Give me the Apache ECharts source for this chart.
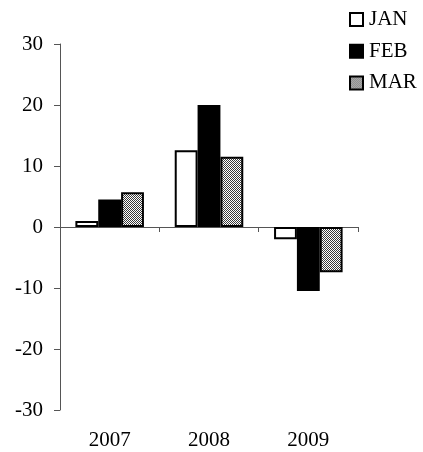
<!DOCTYPE html>
<html>
<head>
<meta charset="utf-8">
<script src="https://cdn.jsdelivr.net/npm/echarts@6/dist/echarts.min.js"></script>
<style>html,body{margin:0;padding:0;background:#fff;}#c{width:423px;height:452px;}</style>
</head>
<body>
<div id="c"></div>
<script>
var categories = ['2007', '2008', '2009'];
var seriesNames = ['JAN', 'FEB', 'MAR'];
var janValues = [1, 12.6, -2];
var febValues = [4.5, 20, -10.5];
var marValues = [5.7, 11.5, -7.4];
var yTicks = {min: -30, max: 30, interval: 10};

var pc = document.createElement('canvas');
pc.width = 2; pc.height = 2;
var ctx = pc.getContext('2d');
ctx.fillStyle = '#ffffff'; ctx.fillRect(0, 0, 2, 2);
ctx.fillStyle = '#3a3a3a'; ctx.fillRect(0, 0, 1, 1); ctx.fillRect(1, 1, 1, 1);
var pattern = {image: pc, repeat: 'repeat'};

var font = '"Liberation Serif", "Times New Roman", serif';
var border = {borderColor: '#000', borderWidth: 2};

function mk(name, data, color) {
  return {
    name: name, type: 'bar', data: data, barWidth: '23%', barGap: '0%',
    itemStyle: Object.assign({color: color}, border),
    emphasis: {disabled: true}, animation: false
  };
}

var chart = echarts.init(document.getElementById('c'), null, {renderer: 'canvas'});
chart.setOption({
  animation: false,
  backgroundColor: '#fff',
  grid: {left: 60, top: 44, width: 298, height: 366},
  legend: {
    orient: 'vertical', left: 349, top: 9, padding: 0, itemWidth: 13, itemHeight: 13, itemGap: 10.7,
    icon: 'rect',
    textStyle: {fontFamily: font, fontSize: 21, color: '#000', lineHeight: 21, padding: [0,0,0,1]},
    data: seriesNames
  },
  xAxis: [{
    type: 'category', data: categories, position: 'bottom',
    axisLine: {onZero: true, lineStyle: {color: '#555', width: 1}},
    axisTick: {show: true, length: 5, lineStyle: {color: '#555'}},
    axisLabel: {show: false}
  }, {
    type: 'category', data: categories, position: 'bottom',
    axisLine: {show: false, onZero: false}, axisTick: {show: false},
    axisLabel: {show: true, margin: 20, fontFamily: font, fontSize: 21, color: '#000'}
  }],
  yAxis: {
    type: 'value', min: yTicks.min, max: yTicks.max, interval: yTicks.interval,
    splitLine: {show: false},
    axisLine: {show: true, lineStyle: {color: '#555', width: 1}},
    axisTick: {show: true, length: 6, lineStyle: {color: '#555'}},
    axisLabel: {margin: 17, fontFamily: font, fontSize: 21, color: '#000'}
  },
  series: [
    mk(seriesNames[0], janValues, '#fff'),
    mk(seriesNames[1], febValues, '#000'),
    mk(seriesNames[2], marValues, pattern)
  ]
});
</script>
</body>
</html>
